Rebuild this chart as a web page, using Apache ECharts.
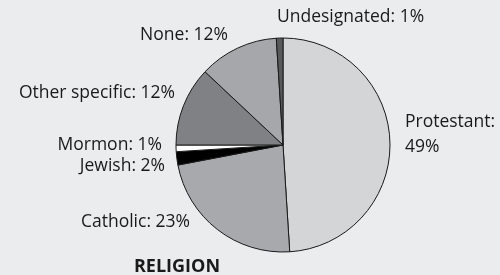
<!DOCTYPE html>
<html>
<head>
<meta charset="utf-8">
<script src="https://cdn.jsdelivr.net/npm/echarts@6/dist/echarts.min.js"></script>
<style>
  html, body { margin: 0; padding: 0; background: #ebecee; }
  #chart { width: 500px; height: 275px; }
</style>
</head>
<body>
<div id="chart"></div>
<script>
// religion shares, clockwise from 12 o'clock
const religions = ['Protestant', 'Catholic', 'Jewish', 'Mormon', 'Other specific', 'None', 'Undesignated'];
const shares = [49, 23, 2, 1, 12, 12, 1];
const sliceColors = ['#d4d5d7', '#a8a9ac', '#000000', '#ffffff', '#808184', '#a6a7aa', '#58595b'];

// where each label sits (anchor x, middle y, alignment)
const labelSpots = {
  'Protestant':     [405, 135, 'left'],
  'Catholic':       [190, 222, 'right'],
  'Jewish':         [165, 166, 'right'],
  'Mormon':         [162, 145, 'right'],
  'Other specific': [175, 93, 'right'],
  'None':           [228, 35, 'right'],
  'Undesignated':   [277, 17, 'left']
};

const chart = echarts.init(document.getElementById('chart'), null, { renderer: 'canvas' });

chart.setOption({
  backgroundColor: '#ebecee',
  animation: false,
  title: {
    text: 'RELIGION',
    left: 172,
    textAlign: 'center',
    top: 253,
    textStyle: { fontFamily: 'Open Sans', fontWeight: 'bold', fontSize: 18, color: '#1a1a1a' }
  },
  series: [{
    type: 'pie',
    center: [283, 145],
    radius: [0, 107],
    startAngle: 90,
    clockwise: true,
    avoidLabelOverlap: false,
    minShowLabelAngle: 0,
    itemStyle: { borderColor: '#1a1a1a', borderWidth: 1 },
    label: {
      show: true,
      position: 'outside',
      fontFamily: 'Open Sans',
      fontSize: 17.5,
      color: '#1a1a1a',
      lineHeight: 25,
      formatter: p => p.name === 'Protestant' ? p.name + ':\n' + p.value + '%' : p.name + ': ' + p.value + '%'
    },
    labelLine: { show: false },
    labelLayout: p => {
      const s = labelSpots[religions[p.dataIndex]];
      return { x: s[0], y: s[1], align: s[2], verticalAlign: 'middle', hideOverlap: false, moveOverlap: false };
    },
    data: religions.map((n, i) => ({ name: n, value: shares[i], itemStyle: { color: sliceColors[i] } }))
  }]
});
</script>
</body>
</html>
